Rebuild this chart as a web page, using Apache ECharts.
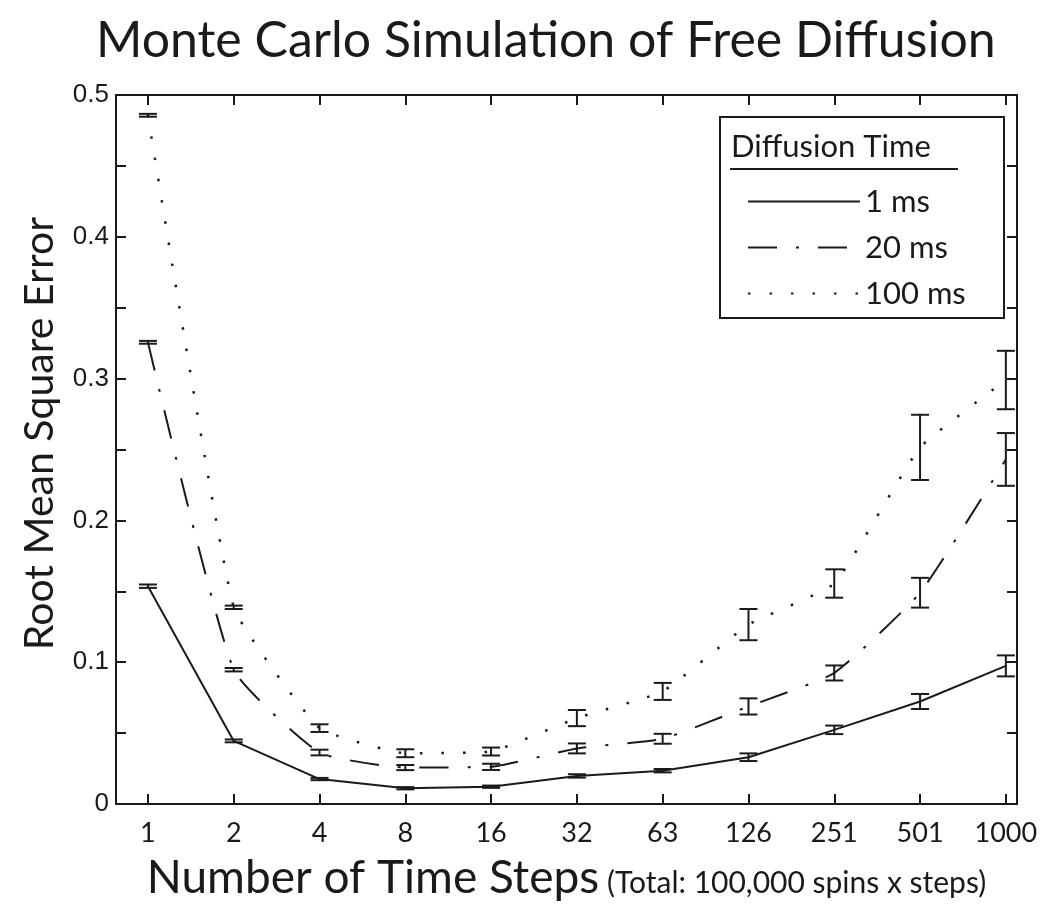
<!DOCTYPE html>
<html>
<head>
<meta charset="utf-8">
<script src="https://cdn.jsdelivr.net/npm/echarts@6/dist/echarts.min.js"></script>
<style>html,body{margin:0;padding:0;background:#fff}#c{width:1050px;height:907px}</style>
</head>
<body>
<div id="c"></div>
<script>
// ---- data ----
const steps = ['1', '2', '4', '8', '16', '32', '63', '126', '251', '501', '1000'];
const rmse1ms   = [0.1536, 0.0445, 0.0176, 0.0111, 0.0122, 0.0198, 0.0235, 0.0330, 0.0523, 0.0723, 0.0974];
const err1ms    = [0.0012, 0.0010, 0.0008, 0.0008, 0.0008, 0.0012, 0.0012, 0.0027, 0.0030, 0.0053, 0.0074];
const rmse20ms  = [0.3256, 0.0947, 0.0363, 0.0257, 0.0262, 0.0392, 0.0460, 0.0688, 0.0924, 0.1490, 0.2430];
const err20ms   = [0.0010, 0.0012, 0.0020, 0.0018, 0.0022, 0.0035, 0.0035, 0.0057, 0.0053, 0.0105, 0.0186];
const rmse100ms = [0.4857, 0.1387, 0.0535, 0.0358, 0.0370, 0.0606, 0.0794, 0.1265, 0.1555, 0.2515, 0.2990];
const err100ms  = [0.0010, 0.0012, 0.0027, 0.0028, 0.0028, 0.0057, 0.0060, 0.0110, 0.0100, 0.0230, 0.0206];
const yTicks = ['0', '0.1', '0.2', '0.3', '0.4', '0.5'];
const seriesNames = ['1 ms', '20 ms', '100 ms'];

const FONT = 'Lato';
const INK = '#1a1a1a';
const idx = steps.map((s, i) => i);

function lineData(vals) { return vals.map((v, i) => [i, v]); }
function errData(vals, errs) { return vals.map((v, i) => [i, v - errs[i], v + errs[i]]); }

function errRender(params, api) {
  const x = api.value(0);
  const lo = api.coord([x, api.value(1)]);
  const hi = api.coord([x, api.value(2)]);
  const w = 9;
  const st = { stroke: INK, lineWidth: 2, fill: null };
  return {
    type: 'group',
    children: [
      { type: 'line', shape: { x1: lo[0], y1: lo[1], x2: hi[0], y2: hi[1] }, style: st },
      { type: 'line', shape: { x1: lo[0] - w, y1: lo[1], x2: lo[0] + w, y2: lo[1] }, style: st },
      { type: 'line', shape: { x1: hi[0] - w, y1: hi[1], x2: hi[0] + w, y2: hi[1] }, style: st }
    ]
  };
}

const tickStyle = { show: true, inside: true, length: 10, lineStyle: { color: INK, width: 2 } };
const lineStyleAx = { show: true, onZero: false, lineStyle: { color: INK, width: 2 } };

const chart = echarts.init(document.getElementById('c'), null, { renderer: 'canvas' });
const option = {
  backgroundColor: '#fff',
  animation: false,
  title: {
    text: 'Monte Carlo Simulation of Free Diffusion',
    left: 91, top: 11,
    textStyle: { fontFamily: FONT, fontSize: 50, fontWeight: 'normal', color: INK }
  },
  grid: { left: 116, top: 95, width: 901, height: 709, containLabel: false, outerBoundsMode: 'none' },
  legend: {
    orient: 'vertical',
    left: 742, top: 181,
    itemWidth: 112, itemHeight: 6, itemGap: 15,
    data: seriesNames,
    z: 20,
    itemStyle: { opacity: 0 },
    lineStyle: { opacity: 1 },
    textStyle: { fontFamily: FONT, fontSize: 31, color: INK, padding: [0, 0, 0, 0] },
    selectedMode: false
  },
  xAxis: [{
    type: 'value', min: -0.372, max: 10.13,
    axisLine: lineStyleAx,
    axisTick: Object.assign({ customValues: idx }, tickStyle),
    axisLabel: { customValues: idx, formatter: v => steps[Math.round(v)], fontFamily: FONT, fontSize: 27, color: INK, margin: 16 },
    splitLine: { show: false },
    name: '{a|Number of Time Steps}{b| (Total: 100,000 spins x steps)}',
    nameLocation: 'middle', nameGap: 51,
    nameTextStyle: {
      rich: {
        a: { fontFamily: FONT, fontSize: 46, color: INK, verticalAlign: 'bottom' },
        b: { fontFamily: FONT, fontSize: 30, color: INK, verticalAlign: 'bottom', padding: [0, 0, 3, 0] }
      }
    }
  }, {
    type: 'value', min: -0.372, max: 10.13, position: 'top',
    axisLine: lineStyleAx,
    axisTick: Object.assign({ customValues: idx }, tickStyle),
    axisLabel: { show: false }, splitLine: { show: false }
  }],
  yAxis: [{
    type: 'value', min: 0, max: 0.5, interval: 0.05,
    axisLine: lineStyleAx,
    axisTick: tickStyle,
    axisLabel: {
      formatter: v => {
        const k = Math.round(v * 10);
        return Math.abs(v * 10 - k) < 1e-6 ? yTicks[k] : '';
      },
      fontFamily: 'Liberation Sans', fontSize: 26, color: INK, margin: 7,
      padding: [4, 0, 0, 0]
    },
    splitLine: { show: false },
    name: 'Root Mean Square Error', nameLocation: 'middle', nameGap: 56,
    nameTextStyle: { fontFamily: FONT, fontSize: 41, color: INK, padding: [0, 0, 0, 32] }
  }, {
    type: 'value', min: 0, max: 0.5, interval: 0.05, position: 'right',
    axisLine: lineStyleAx,
    axisTick: tickStyle,
    axisLabel: { show: false }, splitLine: { show: false }
  }],
  graphic: [
    { type: 'rect', shape: { x: 720, y: 117, width: 284, height: 201 }, style: { fill: '#fff', stroke: INK, lineWidth: 2 }, z: 5 },
    { type: 'text', x: 731, y: 131, style: { text: 'Diffusion Time', fontFamily: FONT, fontSize: 31, fill: INK }, z: 6 },
    { type: 'line', shape: { x1: 730, y1: 169, x2: 958, y2: 169 }, style: { stroke: INK, lineWidth: 2 }, z: 6 }
  ],
  series: [
    { name: '1 ms', type: 'line', data: lineData(rmse1ms), showSymbol: false, symbol: 'none',
      lineStyle: { color: INK, width: 2, type: 'solid' }, itemStyle: { color: INK } },
    { name: '20 ms', type: 'line', data: lineData(rmse20ms), showSymbol: false, symbol: 'none', smooth: 0.15,
      lineStyle: { color: INK, width: 2, type: [29, 19, 3, 19] }, itemStyle: { color: INK } },
    { name: '100 ms', type: 'line', data: lineData(rmse100ms), showSymbol: false, symbol: 'none', smooth: 0.12,
      lineStyle: { color: INK, width: 2.5, type: [2.5, 19] }, itemStyle: { color: INK } },
    { type: 'custom', renderItem: errRender, data: errData(rmse1ms, err1ms), encode: { x: 0, y: [1, 2] }, z: 3 },
    { type: 'custom', renderItem: errRender, data: errData(rmse20ms, err20ms), encode: { x: 0, y: [1, 2] }, z: 3 },
    { type: 'custom', renderItem: errRender, data: errData(rmse100ms, err100ms), encode: { x: 0, y: [1, 2] }, z: 3 }
  ]
};
chart.setOption(option);
</script>
</body>
</html>
